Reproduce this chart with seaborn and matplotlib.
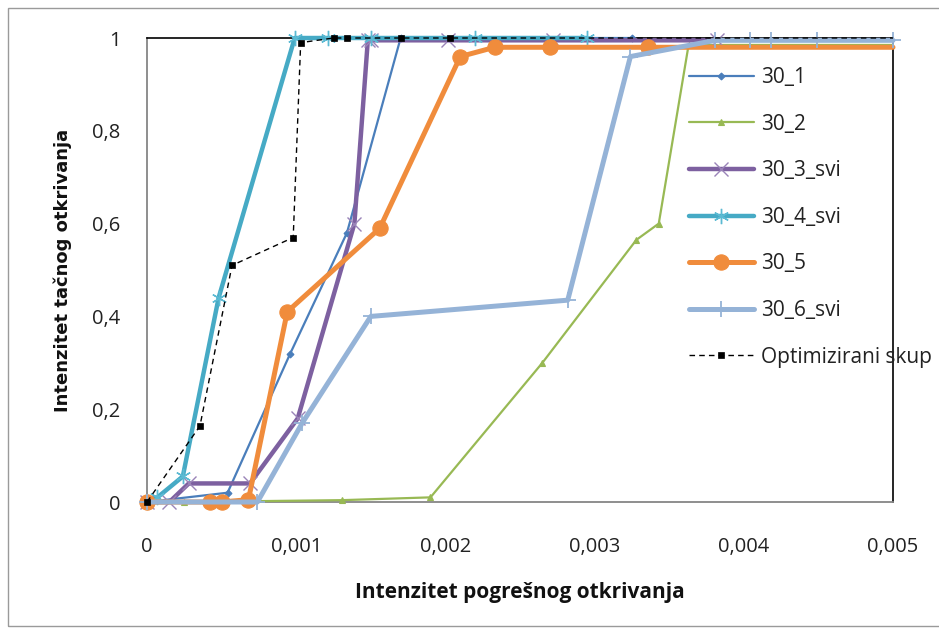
import matplotlib
matplotlib.use("Agg")
import matplotlib.pyplot as plt
import matplotlib.patches as mpatches
import seaborn as sns

# Detection curves: false detection rate (x) vs. true detection rate (y)
x_30_1 = [0, 0.00054, 0.00096, 0.00134, 0.0017, 0.00325]
y_30_1 = [0, 0.02, 0.32, 0.58, 1.0, 1.0]

x_30_2 = [0, 0.00025, 0.00131, 0.0019, 0.00265, 0.00328, 0.00343, 0.00363, 0.005]
y_30_2 = [0, 0.0, 0.004, 0.01, 0.30, 0.565, 0.60, 0.985, 0.985]

x_30_3 = [0, 0.00015, 0.00028, 0.00069, 0.00101, 0.00139, 0.00148, 0.0015, 0.00202, 0.00272, 0.00382]
y_30_3 = [0, 0.0, 0.04, 0.04, 0.18, 0.60, 0.995, 0.995, 0.995, 0.995, 0.995]

x_30_4 = [0, 0.00007, 0.00024, 0.00048, 0.00099, 0.00121, 0.0015, 0.0022, 0.00295]
y_30_4 = [0, 0.01, 0.055, 0.44, 1.0, 1.0, 1.0, 1.0, 1.0]

x_30_5 = [0, 0.00042, 0.0005, 0.00068, 0.00094, 0.00156, 0.0021, 0.00233, 0.0027, 0.00336, 0.005]
y_30_5 = [0, 0.0, 0.0, 0.005, 0.41, 0.59, 0.96, 0.98, 0.98, 0.98, 0.98]

x_30_6 = [0, 0.00074, 0.00104, 0.0015, 0.00282, 0.00324, 0.00381, 0.00404, 0.00418, 0.00449, 0.005]
y_30_6 = [0, 0.0, 0.17, 0.40, 0.435, 0.96, 0.995, 0.995, 0.995, 0.995, 0.995]

x_opt = [0, 0.000355, 0.00057, 0.00098, 0.00103, 0.00125, 0.00134, 0.0017, 0.00203, 0.005]
y_opt = [0, 0.164, 0.51, 0.57, 0.99, 1.0, 1.0, 1.0, 1.0, 1.0]

series_names = ["30_1", "30_2", "30_3_svi", "30_4_svi", "30_5", "30_6_svi", "Optimizirani skup"]

x_ticks = [0, 0.001, 0.002, 0.003, 0.004, 0.005]
x_tick_labels = ["0", "0,001", "0,002", "0,003", "0,004", "0,005"]
y_ticks = [0, 0.2, 0.4, 0.6, 0.8, 1.0]
y_tick_labels = ["0", "0,2", "0,4", "0,6", "0,8", "1"]

sns.set_style("white")
plt.rcParams["font.family"] = ["Open Sans", "DejaVu Sans"]

fig = plt.figure(figsize=(9.39, 6.34), dpi=100)
ax = fig.add_axes([147 / 939, 1 - 502 / 634, (893 - 147) / 939, (502 - 38) / 634])


def all_but_last(xs):
    return list(range(len(xs) - 1))


styles = [
    (x_30_1, y_30_1, dict(color="#4A7EBB", lw=1.6, marker="D", ms=3.5, mec="#4A7EBB", mew=0.8)),
    (x_30_2, y_30_2, dict(color="#98B954", lw=1.6, marker="^", ms=5, mec="#98B954", mew=0.8,
                          markevery=all_but_last(x_30_2))),
    (x_30_3, y_30_3, dict(color="#7D60A0", lw=3.2, marker="x", ms=10, mew=1.0, mec="#9A84B8")),
    (x_30_4, y_30_4, dict(color="#46AAC5", lw=3.2, marker=(6, 2, 0), ms=11, mew=1.0, mec="#5BBAD3")),
    (x_30_5, y_30_5, dict(color="#F08C3C", lw=3.6, marker="o", ms=11, mec="#F08C3C", mew=0.8,
                          markevery=all_but_last(x_30_5))),
    (x_30_6, y_30_6, dict(color="#95B3D7", lw=3.6, marker="+", ms=12, mew=1.3, mec="#95B3D7")),
    (x_opt, y_opt, dict(color="black", lw=1.0, ls=(0, (4, 3)), marker="s", ms=4.5, mec="black",
                        mew=0.5, markevery=all_but_last(x_opt))),
]

for (xs, ys, kw), name in zip(styles, series_names):
    sns.lineplot(x=xs, y=ys, ax=ax, sort=False, estimator=None, label=name,
                 clip_on=False, zorder=3, **kw)

ax.set_xlim(0, 0.005)
ax.set_ylim(0, 1)
ax.set_xticks(x_ticks)
ax.set_xticklabels(x_tick_labels)
ax.set_yticks(y_ticks)
ax.set_yticklabels(y_tick_labels)
ax.tick_params(axis="both", direction="in", length=5, width=1, color="#868686",
               labelsize=14.5, labelcolor="#222222")
ax.tick_params(axis="x", pad=25)
ax.tick_params(axis="y", pad=19)

for side in ["left", "bottom"]:
    ax.spines[side].set_color("#868686")
    ax.spines[side].set_linewidth(1.3)
for side in ["top", "right"]:
    ax.spines[side].set_color("black")
    ax.spines[side].set_linewidth(1.2)

ax.set_xlabel("Intenzitet pogrešnog otkrivanja", fontsize=15, fontweight="bold",
              labelpad=18, color="#111111")
ax.set_ylabel("Intenzitet tačnog otkrivanja", fontsize=13, fontweight="bold",
              family=["DejaVu Sans"], labelpad=15, color="#111111")

leg = ax.legend(loc="upper left", bbox_to_anchor=(689 / 939, 1 - 67 / 634),
                bbox_transform=fig.transFigure, frameon=False, fontsize=15,
                handlelength=3.1, handletextpad=0.34, labelspacing=1.23,
                borderaxespad=0, borderpad=0)
for t in leg.get_texts():
    t.set_color("#222222")

# chart border
fig.patches.append(mpatches.Rectangle((8 / 939, 1 - 626 / 634), 1.2, (626 - 8) / 634,
                                      transform=fig.transFigure, fill=False,
                                      edgecolor="#9A9A9A", lw=1.0, clip_on=False))

fig.savefig("out.png", dpi=100)
